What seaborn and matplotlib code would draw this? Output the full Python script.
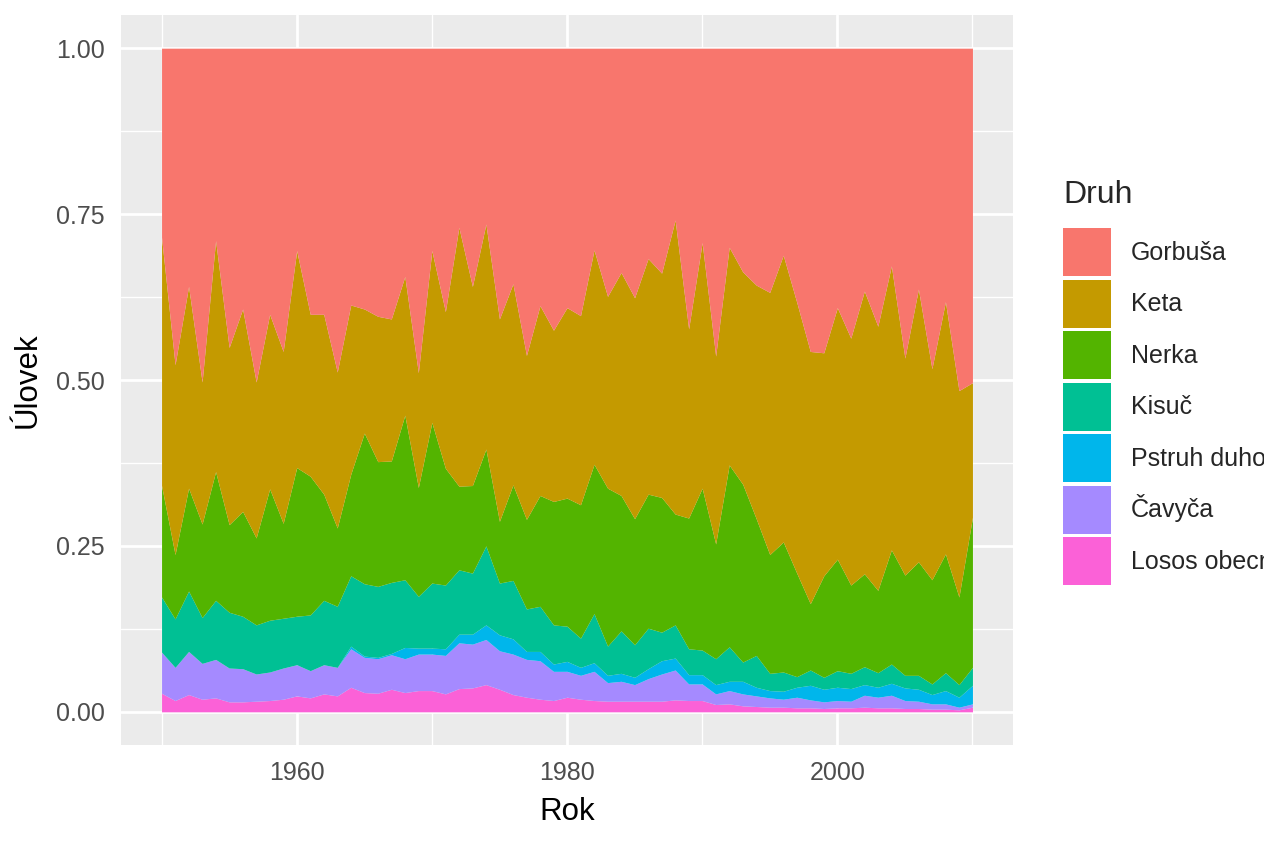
import numpy as np
import pandas as pd
import seaborn as sns
import matplotlib
matplotlib.use("Agg")
import matplotlib.pyplot as plt
from matplotlib.patches import Patch
from matplotlib.ticker import FixedLocator

years = list(range(1950, 2011))

# shares of the catch per year
losos = [.028, .017, .026, .019, .021, .015, .015, .016, .017, .019,
         .024, .021, .027, .024, .037, .029, .028, .034, .029, .032,
         .032, .027, .035, .036, .041, .034, .026, .022, .019, .017,
         .022, .019, .017, .016, .016, .016, .016, .016, .018, .017,
         .017, .011, .012, .009, .008, .007, .007, .006, .006, .005,
         .006, .006, .007, .006, .006, .005, .005, .004, .004, .003,
         .007]
cavyca = [.062, .050, .065, .054, .058, .051, .050, .041, .043, .047,
          .047, .041, .044, .043, .058, .053, .052, .052, .051, .055,
          .055, .058, .069, .066, .068, .058, .061, .057, .058, .044,
          .039, .036, .044, .028, .030, .025, .034, .041, .045, .025,
          .025, .016, .020, .018, .016, .014, .012, .016, .012, .010,
          .011, .010, .018, .016, .019, .012, .011, .008, .008, .004,
          .005]
pstruh = [0, 0, 0, 0, 0, 0, 0, 0, 0, 0,
          0, 0, 0, 0, .004, .002, .002, .002, .017, .009,
          .009, .010, .013, .015, .022, .024, .023, .012, .014, .011,
          .015, .012, .013, .011, .012, .011, .015, .020, .018, .014,
          .014, .014, .014, .019, .013, .011, .012, .015, .022, .019,
          .020, .019, .016, .015, .018, .019, .018, .014, .020, .015,
          .028]
kisuc = [.083, .073, .091, .069, .089, .084, .079, .074, .078, .075,
         .073, .084, .097, .092, .106, .109, .107, .107, .102, .078,
         .098, .096, .097, .092, .119, .078, .088, .064, .068, .059,
         .053, .044, .074, .044, .064, .049, .061, .043, .050, .039,
         .037, .039, .052, .029, .048, .026, .029, .016, .023, .018,
         .025, .023, .027, .022, .029, .019, .021, .016, .027, .019,
         .027]
nerka = [.168, .097, .155, .141, .194, .132, .158, .131, .198, .143,
         .224, .209, .160, .118, .153, .227, .188, .183, .248, .164,
         .242, .176, .126, .132, .146, .093, .144, .135, .167, .186,
         .193, .201, .225, .238, .204, .190, .202, .203, .167, .197,
         .244, .173, .274, .268, .206, .179, .196, .156, .100, .153,
         .168, .133, .140, .124, .172, .151, .171, .157, .179, .132,
         .226]
keta = [.374, .286, .304, .214, .348, .267, .305, .235, .263, .259,
        .327, .244, .271, .235, .255, .187, .219, .214, .209, .173,
        .259, .236, .390, .300, .339, .305, .303, .247, .286, .258,
        .287, .285, .323, .289, .336, .333, .355, .338, .443, .285,
        .370, .283, .328, .320, .352, .395, .432, .408, .380, .336,
        .379, .372, .426, .398, .428, .327, .411, .318, .380, .311,
        .203]
gorbusa = [.285, .477, .359, .503, .290, .451, .393, .503, .401, .457,
           .305, .401, .401, .488, .387, .393, .404, .408, .344, .489,
           .305, .397, .270, .359, .265, .408, .355, .463, .388, .425,
           .391, .403, .304, .374, .338, .376, .317, .339, .259, .423,
           .293, .464, .300, .337, .357, .368, .312, .383, .457, .459,
           .391, .437, .366, .419, .328, .467, .363, .483, .382, .516,
           .504]

species = ["Gorbuša", "Keta", "Nerka", "Kisuč", "Pstruh duhový", "Čavyča", "Losos obecný"]
colors = ["#F8766D", "#C49A00", "#53B400", "#00C094", "#00B6EB", "#A58AFF", "#FB61D7"]

df = pd.DataFrame({
    "Gorbuša": gorbusa, "Keta": keta, "Nerka": nerka, "Kisuč": kisuc,
    "Pstruh duhový": pstruh, "Čavyča": cavyca, "Losos obecný": losos,
}, index=years)
df = df.div(df.sum(axis=1), axis=0)  # position = fill

sns.set_theme(style="darkgrid", rc={
    "axes.facecolor": "#EBEBEB",
    "grid.color": "white",
})
plt.rcParams["font.family"] = ["Liberation Sans", "DejaVu Sans"]

fig = plt.figure(figsize=(12.64, 8.43), dpi=100)
ax = fig.add_axes([121 / 1264, 1 - 745 / 843, (1013 - 121) / 1264, (745 - 15) / 843])

order = species[::-1]  # bottom to top
ax.stackplot(df.index, [df[s].values for s in order],
             colors=[colors[species.index(s)] for s in order], lw=0)

ax.set_xlim(1947, 2013)
ax.set_ylim(-0.05, 1.05)
ax.set_xticks([1960, 1980, 2000])
ax.set_yticks([0, 0.25, 0.5, 0.75, 1.0])
ax.set_yticklabels(["0.00", "0.25", "0.50", "0.75", "1.00"])
ax.xaxis.set_minor_locator(FixedLocator([1950, 1970, 1990, 2010]))
ax.yaxis.set_minor_locator(FixedLocator([0.125, 0.375, 0.625, 0.875]))
ax.grid(which="major", color="white", lw=2.0)
ax.grid(which="minor", color="white", lw=1.0)
ax.set_axisbelow(True)
for sp in ax.spines.values():
    sp.set_visible(False)
ax.tick_params(which="major", length=5.5, width=1.3, color="#333333",
               labelsize=18, labelcolor="#4D4D4D", pad=6)
ax.tick_params(which="minor", length=0)

ax.set_xlabel("Rok", fontsize=22.5, color="black", labelpad=9)
ax.set_ylabel("Úlovek", fontsize=22.5, color="black", labelpad=10)

# legend: title drawn separately so the gap to the keys matches ggplot
fig.text(1063 / 1264, 1 - 195 / 843, "Druh", fontsize=23, va="center", ha="left")
handles = [Patch(facecolor=c, edgecolor="none") for c in colors]
fig.legend(handles, species, loc="upper left",
           bbox_to_anchor=(1063 / 1264, 1 - 228 / 843),
           frameon=False, fontsize=18,
           handlelength=1.92, handleheight=2.577, labelspacing=0.14,
           handletextpad=0.8, borderpad=0, borderaxespad=0)

fig.savefig("out.png", dpi=100)
